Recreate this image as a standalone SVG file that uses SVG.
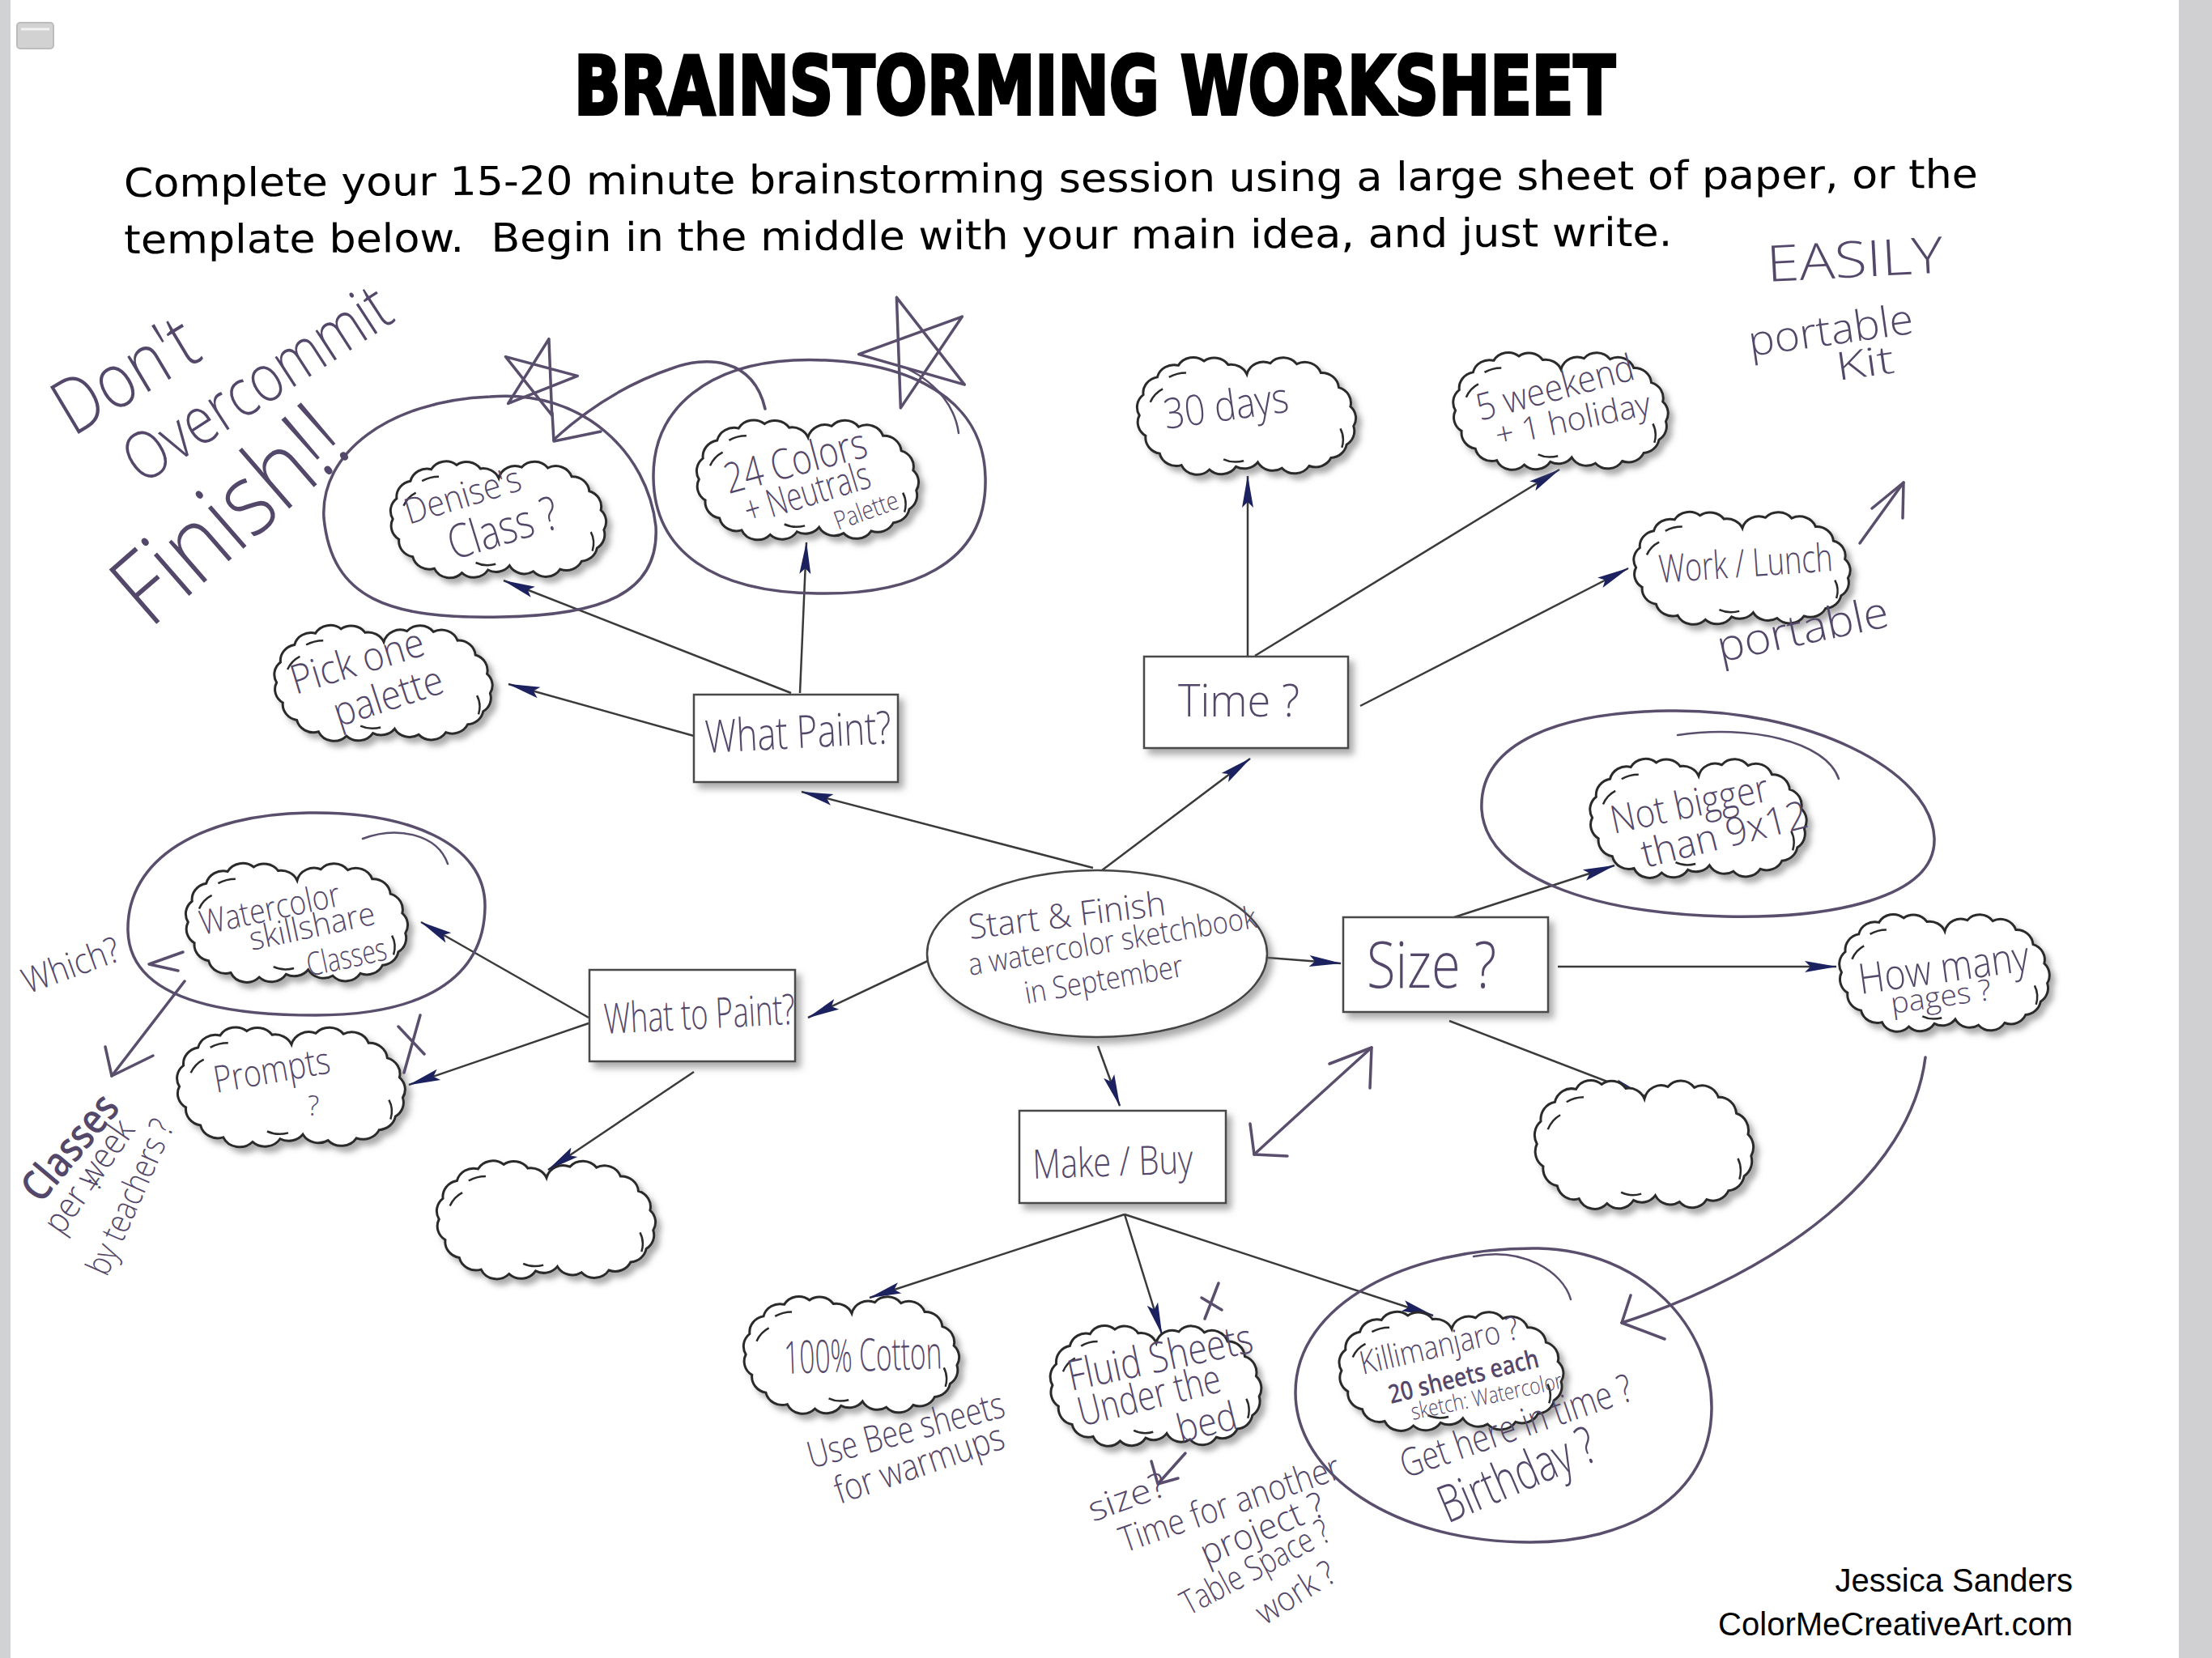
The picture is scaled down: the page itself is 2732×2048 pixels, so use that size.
<svg xmlns="http://www.w3.org/2000/svg" xmlns:xlink="http://www.w3.org/1999/xlink" width="2732" height="2048" viewBox="0 0 2732 2048">
<style>
.ln{stroke:#3a3a3a;stroke-width:2.5;fill:none}
.pen{stroke:#5a4e6d;stroke-width:3.5;fill:none;stroke-linecap:round;stroke-linejoin:round}
.pent{stroke:#5a4e6d;stroke-width:2.5;fill:none;stroke-linecap:round}
.hw{font-family:"Open Sans","DejaVu Sans Condensed","Liberation Sans",sans-serif;font-weight:300;fill:#54486a}
.box{fill:#fff;stroke:#4a4a4a;stroke-width:2.5}
.cl{fill:#fff;stroke:#2c2c2c;stroke-width:3}
.tick{fill:none;stroke:#2c2c2c;stroke-width:2.5}
.body{font-family:"DejaVu Sans","Liberation Sans",sans-serif;fill:#000}
.foot{font-family:"Liberation Sans",Arial,sans-serif;font-size:40px;fill:#000;text-anchor:end}
</style>
<defs>
<filter id="sh" x="-15%" y="-15%" width="135%" height="140%">
<feDropShadow dx="6" dy="7" stdDeviation="4" flood-color="#666" flood-opacity="0.55"/>
</filter>
<marker id="ah" viewBox="0 0 40 18" markerWidth="40" markerHeight="18" refX="39" refY="9" orient="auto" markerUnits="userSpaceOnUse">
<path d="M0,2 L40,9 L0,16 L7,9 Z" fill="#1c2260"/>
</marker>
<g id="cloud">
<path class="cl" vector-effect="non-scaling-stroke" d="M0,-56 A22,22 0 0 1 30,-71 A22,22 0 0 1 64,-70 A22,22 0 0 1 95,-58 A22,22 0 0 1 118,-38 A22,22 0 0 1 133,-12 A22,22 0 0 1 137,15 A22,22 0 0 1 128,40 A22,22 0 0 1 108,58 A22,22 0 0 1 80,69 A22,22 0 0 1 45,72 A22,22 0 0 1 14,64 A22,22 0 0 1 -14,70 A22,22 0 0 1 -48,74 A22,22 0 0 1 -84,68 A22,22 0 0 1 -112,52 A22,22 0 0 1 -130,28 A22,22 0 0 1 -138,0 A22,22 0 0 1 -133,-28 A22,22 0 0 1 -115,-52 A22,22 0 0 1 -88,-68 A22,22 0 0 1 -55,-74 A22,22 0 0 1 -24,-69 A22,22 0 0 1 0,-56 Z"/>
<path class="tick" vector-effect="non-scaling-stroke" d="M-124,-18 q5,-12 16,-18 M120,18 q6,12 2,26 M-30,60 q12,6 26,2 M-100,-52 q10,-6 22,-6"/>
</g>
</defs>

<rect x="0" y="0" width="2732" height="2048" fill="#ffffff"/>
<rect x="0" y="0" width="13" height="2048" fill="#d1d2d4"/>
<rect x="2691" y="0" width="41" height="2048" fill="#d0d0d2"/>
<g id="icon">
<rect x="21" y="28" width="45" height="32" rx="4" fill="#d2d2d2" stroke="#bcbcbc" stroke-width="2"/>
<line x1="26" y1="36" x2="61" y2="36" stroke="#f2f2f2" stroke-width="3"/>
</g>

<g id="header">
<text class="body" x="709" y="141" font-size="100" font-weight="bold" stroke="#000" stroke-width="4" textLength="1286" lengthAdjust="spacingAndGlyphs">BRAINSTORMING WORKSHEET</text>
<g transform="rotate(-0.28 153 243)">
<text class="body" x="153" y="243" font-size="49" textLength="2290" lengthAdjust="spacingAndGlyphs">Complete your 15-20 minute brainstorming session using a large sheet of paper, or the</text>
<text class="body" x="153" y="313" font-size="49" textLength="1912" lengthAdjust="spacingAndGlyphs" style="white-space:pre">template below.  Begin in the middle with your main idea, and just write.</text>
</g>
</g>

<g id="connectors">
<line class="ln" x1="1350" y1="1072" x2="990" y2="978" marker-end="url(#ah)"/>
<line class="ln" x1="1361" y1="1075" x2="1544" y2="937" marker-end="url(#ah)"/>
<line class="ln" x1="1150" y1="1185" x2="998" y2="1257" marker-end="url(#ah)"/>
<line class="ln" x1="1566" y1="1183" x2="1656" y2="1190" marker-end="url(#ah)"/>
<line class="ln" x1="1356" y1="1292" x2="1383" y2="1366" marker-end="url(#ah)"/>
<line class="ln" x1="977" y1="856" x2="622" y2="717" marker-end="url(#ah)"/>
<line class="ln" x1="988" y1="856" x2="996" y2="670" marker-end="url(#ah)"/>
<line class="ln" x1="857" y1="909" x2="628" y2="845" marker-end="url(#ah)"/>
<line class="ln" x1="1541" y1="811" x2="1541" y2="588" marker-end="url(#ah)"/>
<line class="ln" x1="1550" y1="810" x2="1926" y2="580" marker-end="url(#ah)"/>
<line class="ln" x1="1680" y1="872" x2="2011" y2="702" marker-end="url(#ah)"/>
<line class="ln" x1="1796" y1="1133" x2="1994" y2="1069" marker-end="url(#ah)"/>
<line class="ln" x1="1924" y1="1194" x2="2268" y2="1194" marker-end="url(#ah)"/>
<line class="ln" x1="1790" y1="1261" x2="2032" y2="1354" marker-end="url(#ah)"/>
<line class="ln" x1="727" y1="1257" x2="520" y2="1139" marker-end="url(#ah)"/>
<line class="ln" x1="727" y1="1264" x2="505" y2="1340" marker-end="url(#ah)"/>
<line class="ln" x1="857" y1="1324" x2="677" y2="1445" marker-end="url(#ah)"/>
<line class="ln" x1="1389" y1="1500" x2="1074" y2="1603" marker-end="url(#ah)"/>
<line class="ln" x1="1389" y1="1500" x2="1435" y2="1648" marker-end="url(#ah)"/>
<line class="ln" x1="1389" y1="1500" x2="1770" y2="1625" marker-end="url(#ah)"/>
</g>

<g id="node-center">
<ellipse cx="1355" cy="1178" rx="210" ry="103" fill="#fff" stroke="#444" stroke-width="2.5" filter="url(#sh)"/>
<text class="hw" transform="translate(1198 1160) rotate(-7)" font-size="42" textLength="245" lengthAdjust="spacingAndGlyphs">Start &amp; Finish</text>
<text class="hw" transform="translate(1198 1205) rotate(-9.5)" font-size="38" textLength="360" lengthAdjust="spacingAndGlyphs">a watercolor sketchbook</text>
<text class="hw" transform="translate(1268 1240) rotate(-10)" font-size="38" textLength="198" lengthAdjust="spacingAndGlyphs">in September</text>
</g>

<g id="node-what-paint">
<rect class="box" x="857" y="858" width="252" height="108" filter="url(#sh)"/>
<text class="hw" transform="translate(872 930) rotate(-3)" font-size="56" textLength="230" lengthAdjust="spacingAndGlyphs">What Paint?</text>
</g>
<g id="node-time">
<rect class="box" x="1413" y="811" width="252" height="113" filter="url(#sh)"/>
<text class="hw" x="1455" y="885" font-size="56" textLength="150" lengthAdjust="spacingAndGlyphs">Time ?</text>
</g>
<g id="node-size">
<rect class="box" x="1659" y="1133" width="253" height="117" filter="url(#sh)"/>
<text class="hw" x="1688" y="1220" font-size="80" textLength="160" lengthAdjust="spacingAndGlyphs">Size ?</text>
</g>
<g id="node-what-to-paint">
<rect class="box" x="728" y="1198" width="254" height="113" filter="url(#sh)"/>
<text class="hw" transform="translate(747 1277) rotate(-3)" font-size="52" textLength="236" lengthAdjust="spacingAndGlyphs">What to Paint?</text>
</g>
<g id="node-make-buy">
<rect class="box" x="1259" y="1372" width="255" height="114" filter="url(#sh)"/>
<text class="hw" transform="translate(1276 1456) rotate(-2)" font-size="50" textLength="198" lengthAdjust="spacingAndGlyphs">Make / Buy</text>
</g>

<g id="node-denise">
<use xlink:href="#cloud" href="#cloud" transform="translate(616 641) scale(0.948 0.9)" filter="url(#sh)"/>
<text class="hw" transform="translate(505 648) rotate(-17)" font-size="44" textLength="148" lengthAdjust="spacingAndGlyphs">Denise's</text>
<text class="hw" transform="translate(560 692) rotate(-17)" font-size="58" textLength="140" lengthAdjust="spacingAndGlyphs">Class ?</text>
</g>
<g id="node-24colors">
<use xlink:href="#cloud" href="#cloud" transform="translate(998 592) scale(0.976 0.925)" filter="url(#sh)"/>
<text class="hw" transform="translate(900 610) rotate(-15)" font-size="52" textLength="180" lengthAdjust="spacingAndGlyphs">24 Colors</text>
<text class="hw" transform="translate(925 648) rotate(-17)" font-size="48" textLength="160" lengthAdjust="spacingAndGlyphs">+ Neutrals</text>
<text class="hw" transform="translate(1035 655) rotate(-20)" font-size="32" textLength="82" lengthAdjust="spacingAndGlyphs">Palette</text>
</g>
<g id="node-pick-one">
<use xlink:href="#cloud" href="#cloud" transform="translate(474 843) scale(0.959 0.894)" filter="url(#sh)"/>
<text class="hw" transform="translate(365 858) rotate(-17)" font-size="50" textLength="170" lengthAdjust="spacingAndGlyphs">Pick one</text>
<text class="hw" transform="translate(418 898) rotate(-18)" font-size="50" textLength="140" lengthAdjust="spacingAndGlyphs">palette</text>
</g>
<g id="node-30days">
<use xlink:href="#cloud" href="#cloud" transform="translate(1540 513) scale(0.962 0.906)" filter="url(#sh)"/>
<text class="hw" transform="translate(1440 530) rotate(-8)" font-size="52" textLength="155" lengthAdjust="spacingAndGlyphs">30 days</text>
</g>
<g id="node-weekend">
<use xlink:href="#cloud" href="#cloud" transform="translate(1928 507) scale(0.945 0.906)" filter="url(#sh)"/>
<text class="hw" transform="translate(1828 520) rotate(-15)" font-size="46" textLength="200" lengthAdjust="spacingAndGlyphs">5 weekend</text>
<text class="hw" transform="translate(1850 552) rotate(-12)" font-size="40" textLength="195" lengthAdjust="spacingAndGlyphs">+ 1 holiday</text>
</g>
<g id="node-work-lunch">
<use xlink:href="#cloud" href="#cloud" transform="translate(2152 701) scale(0.952 0.869)" filter="url(#sh)"/>
<text class="hw" transform="translate(2050 720) rotate(-4)" font-size="48" textLength="215" lengthAdjust="spacingAndGlyphs">Work / Lunch</text>
</g>
<g id="node-not-bigger">
<use xlink:href="#cloud" href="#cloud" transform="translate(2098 1010) scale(0.952 0.919)" filter="url(#sh)"/>
<text class="hw" transform="translate(1993 1030) rotate(-12)" font-size="48" textLength="198" lengthAdjust="spacingAndGlyphs">Not bigger</text>
<text class="hw" transform="translate(2032 1072) rotate(-14)" font-size="48" textLength="210" lengthAdjust="spacingAndGlyphs">than 9x12</text>
</g>
<g id="node-how-many">
<use xlink:href="#cloud" href="#cloud" transform="translate(2402 1201) scale(0.924 0.906)" filter="url(#sh)"/>
<text class="hw" transform="translate(2298 1228) rotate(-8)" font-size="52" textLength="212" lengthAdjust="spacingAndGlyphs">How many</text>
<text class="hw" transform="translate(2337 1252) rotate(-8)" font-size="36" textLength="125" lengthAdjust="spacingAndGlyphs">pages ?</text>
</g>
<g id="node-empty-right">
<use xlink:href="#cloud" href="#cloud" transform="translate(2031 1413) scale(0.962 0.994)" filter="url(#sh)"/>
</g>
<g id="node-watercolor">
<use xlink:href="#cloud" href="#cloud" transform="translate(367 1139) scale(0.976 0.919)" filter="url(#sh)"/>
<text class="hw" transform="translate(250 1155) rotate(-12)" font-size="42" textLength="176" lengthAdjust="spacingAndGlyphs">Watercolor</text>
<text class="hw" transform="translate(311 1174) rotate(-12)" font-size="40" textLength="158" lengthAdjust="spacingAndGlyphs">skillshare</text>
<text class="hw" transform="translate(382 1206) rotate(-12)" font-size="40" textLength="100" lengthAdjust="spacingAndGlyphs">Classes</text>
</g>
<g id="node-prompts">
<use xlink:href="#cloud" href="#cloud" transform="translate(360 1342) scale(1.003 0.925)" filter="url(#sh)"/>
<text class="hw" transform="translate(267 1350) rotate(-10)" font-size="46" textLength="145" lengthAdjust="spacingAndGlyphs">Prompts</text>
<text class="hw" x="380" y="1378" font-size="34">?</text>
</g>
<g id="node-empty-left">
<use xlink:href="#cloud" href="#cloud" transform="translate(675 1506) scale(0.962 0.913)" filter="url(#sh)"/>
</g>
<g id="node-cotton">
<use xlink:href="#cloud" href="#cloud" transform="translate(1052 1673) scale(0.948 0.906)" filter="url(#sh)"/>
<text class="hw" transform="translate(969 1697) rotate(-2)" font-size="56" textLength="195" lengthAdjust="spacingAndGlyphs">100% Cotton</text>
</g>
<g id="node-fluid">
<use xlink:href="#cloud" href="#cloud" transform="translate(1428 1711) scale(0.928 0.931)" filter="url(#sh)"/>
<text class="hw" transform="translate(1323 1718) rotate(-12)" font-size="52" textLength="232" lengthAdjust="spacingAndGlyphs">Fluid Sheets</text>
<text class="hw" transform="translate(1336 1762) rotate(-14)" font-size="50" textLength="180" lengthAdjust="spacingAndGlyphs">Under the</text>
<text class="hw" transform="translate(1458 1782) rotate(-14)" font-size="48" textLength="75" lengthAdjust="spacingAndGlyphs">bed</text>
</g>
<g id="node-killimanjaro">
<use xlink:href="#cloud" href="#cloud" transform="translate(1793 1693) scale(0.986 0.919)" filter="url(#sh)"/>
<text class="hw" transform="translate(1683 1698) rotate(-13)" font-size="40" textLength="200" lengthAdjust="spacingAndGlyphs">Killimanjaro ?</text>
<text class="hw" transform="translate(1718 1734) rotate(-14)" font-size="32" font-weight="bold" textLength="190" lengthAdjust="spacingAndGlyphs" style="font-weight:600">20 sheets each</text>
<text class="hw" transform="translate(1745 1754) rotate(-12)" font-size="28" textLength="190" lengthAdjust="spacingAndGlyphs">sketch: Watercolor</text>
</g>

<g id="annotations">
<path class="pen" d="M605,490 C720,480 800,560 810,650 C815,735 740,760 620,762 C480,765 410,740 400,640 C395,560 480,495 605,490 Z"/>
<path class="pen" d="M980,445 C1100,440 1215,480 1217,590 C1220,700 1120,735 1010,733 C880,732 808,680 807,590 C806,500 880,450 980,445 Z"/>
<path class="pent" d="M1120,455 C1160,475 1180,505 1184,535"/>
<path class="pen" d="M945,505 C930,440 870,440 830,455 C770,475 720,510 684,543"/>
<polyline class="pen" points="682,510 684,545 742,533"/>
<polyline class="pen" transform="rotate(15 665 467)" points="665,417 693,507 619,452 711,452 637,507 665,417"/>
<polyline class="pen" transform="rotate(-20 1132 435)" points="1132,363 1174,493 1064,413 1200,413 1090,493 1132,363"/>
<text class="hw" transform="translate(90 540) rotate(-31)" font-size="95" textLength="190" lengthAdjust="spacingAndGlyphs">Don't</text>
<text class="hw" transform="translate(175 600) rotate(-33)" font-size="82" textLength="376" lengthAdjust="spacingAndGlyphs">Overcommit</text>
<text class="hw" transform="translate(185 778) rotate(-41)" font-size="125" textLength="335" lengthAdjust="spacingAndGlyphs">Finish!!</text>

<text class="hw" transform="translate(2183 348) rotate(-3)" font-size="62" textLength="218" lengthAdjust="spacingAndGlyphs">EASILY</text>
<text class="hw" transform="translate(2162 440) rotate(-8)" font-size="52" textLength="205" lengthAdjust="spacingAndGlyphs">portable</text>
<text class="hw" transform="translate(2270 470) rotate(-8)" font-size="48" textLength="72" lengthAdjust="spacingAndGlyphs">Kit</text>
<line class="pen" x1="2297" y1="671" x2="2351" y2="596"/>
<polyline class="pen" points="2312,628 2351,596 2350,640"/>
<text class="hw" transform="translate(2125 818) rotate(-12)" font-size="54" textLength="215" lengthAdjust="spacingAndGlyphs">portable</text>

<path class="pen" d="M2060,878 C2230,875 2385,950 2389,1035 C2392,1110 2260,1135 2130,1132 C1960,1128 1835,1080 1830,1000 C1826,915 1930,880 2060,878 Z"/>
<path class="pent" d="M2072,908 C2160,895 2255,915 2271,962"/>

<path class="pen" d="M380,1004 C500,1002 600,1040 599,1120 C598,1210 520,1254 390,1254 C240,1254 160,1220 158,1150 C156,1060 250,1006 380,1004 Z"/>
<path class="pent" d="M448,1036 C490,1020 540,1030 553,1067"/>
<text class="hw" transform="translate(34 1228) rotate(-20)" font-size="44" textLength="125" lengthAdjust="spacingAndGlyphs">Which?</text>
<polyline class="pen" points="226,1176 184,1191 220,1199"/>
<line class="pen" x1="228" y1="1212" x2="138" y2="1329"/>
<polyline class="pen" points="130,1293 138,1329 189,1304"/>
<text class="hw" transform="translate(50 1488) rotate(-50)" font-size="52" textLength="155" lengthAdjust="spacingAndGlyphs" style="font-weight:600">Classes</text>
<text class="hw" transform="translate(76 1527) rotate(-55)" font-size="44" textLength="160" lengthAdjust="spacingAndGlyphs">per week</text>
<text class="hw" transform="translate(122 1480) rotate(-55)" font-size="40">÷</text>
<text class="hw" transform="translate(132 1578) rotate(-66)" font-size="42" textLength="205" lengthAdjust="spacingAndGlyphs">by teachers ?</text>
<path class="pen" d="M519,1254 L499,1325 M492,1268 L524,1302"/>

<path class="pen" d="M1549,1426 Q1610,1370 1694,1294"/>
<polyline class="pen" points="1544,1388 1549,1426 1590,1428"/>
<polyline class="pen" points="1642,1314 1694,1294 1692,1344"/>

<path class="pen" d="M1505,1585 L1488,1629 M1484,1603 L1509,1618"/>
<path class="pen" d="M1464,1795 L1430,1833 M1422,1805 L1430,1833 L1455,1826"/>
<text class="hw" transform="translate(1350 1880) rotate(-20)" font-size="42" textLength="100" lengthAdjust="spacingAndGlyphs">size?</text>
<text class="hw" transform="translate(1389 1918) rotate(-19)" font-size="44" textLength="285" lengthAdjust="spacingAndGlyphs">Time for another</text>
<text class="hw" transform="translate(1490 1934) rotate(-23)" font-size="44" textLength="163" lengthAdjust="spacingAndGlyphs">project ?</text>
<text class="hw" transform="translate(1468 1996) rotate(-28)" font-size="42" textLength="202" lengthAdjust="spacingAndGlyphs">Table Space ?</text>
<text class="hw" transform="translate(1562 2008) rotate(-32)" font-size="42" textLength="108" lengthAdjust="spacingAndGlyphs">work ?</text>
<text class="hw" transform="translate(1002 1814) rotate(-15)" font-size="46" textLength="250" lengthAdjust="spacingAndGlyphs">Use Bee sheets</text>
<text class="hw" transform="translate(1037 1858) rotate(-18.7)" font-size="46" textLength="218" lengthAdjust="spacingAndGlyphs">for warmups</text>

<path class="pen" d="M1900,1542 C2030,1545 2115,1640 2114,1740 C2113,1850 2010,1905 1890,1905 C1720,1905 1600,1820 1600,1720 C1600,1610 1740,1540 1900,1542 Z"/>
<path class="pent" d="M1820,1552 C1880,1540 1930,1570 1940,1605"/>
<path class="pen" d="M2378,1306 C2360,1450 2200,1570 2003,1634"/>
<polyline class="pen" points="2014,1600 2003,1634 2056,1654"/>
<text class="hw" transform="translate(1736 1826) rotate(-19)" font-size="48" textLength="300" lengthAdjust="spacingAndGlyphs">Get here in time ?</text>
<text class="hw" transform="translate(1788 1882) rotate(-23)" font-size="64" textLength="205" lengthAdjust="spacingAndGlyphs">Birthday ?</text>
</g>

<g id="footer">
<text class="foot" x="2560" y="1966">Jessica Sanders</text>
<text class="foot" x="2560" y="2020">ColorMeCreativeArt.com</text>
</g>
</svg>
